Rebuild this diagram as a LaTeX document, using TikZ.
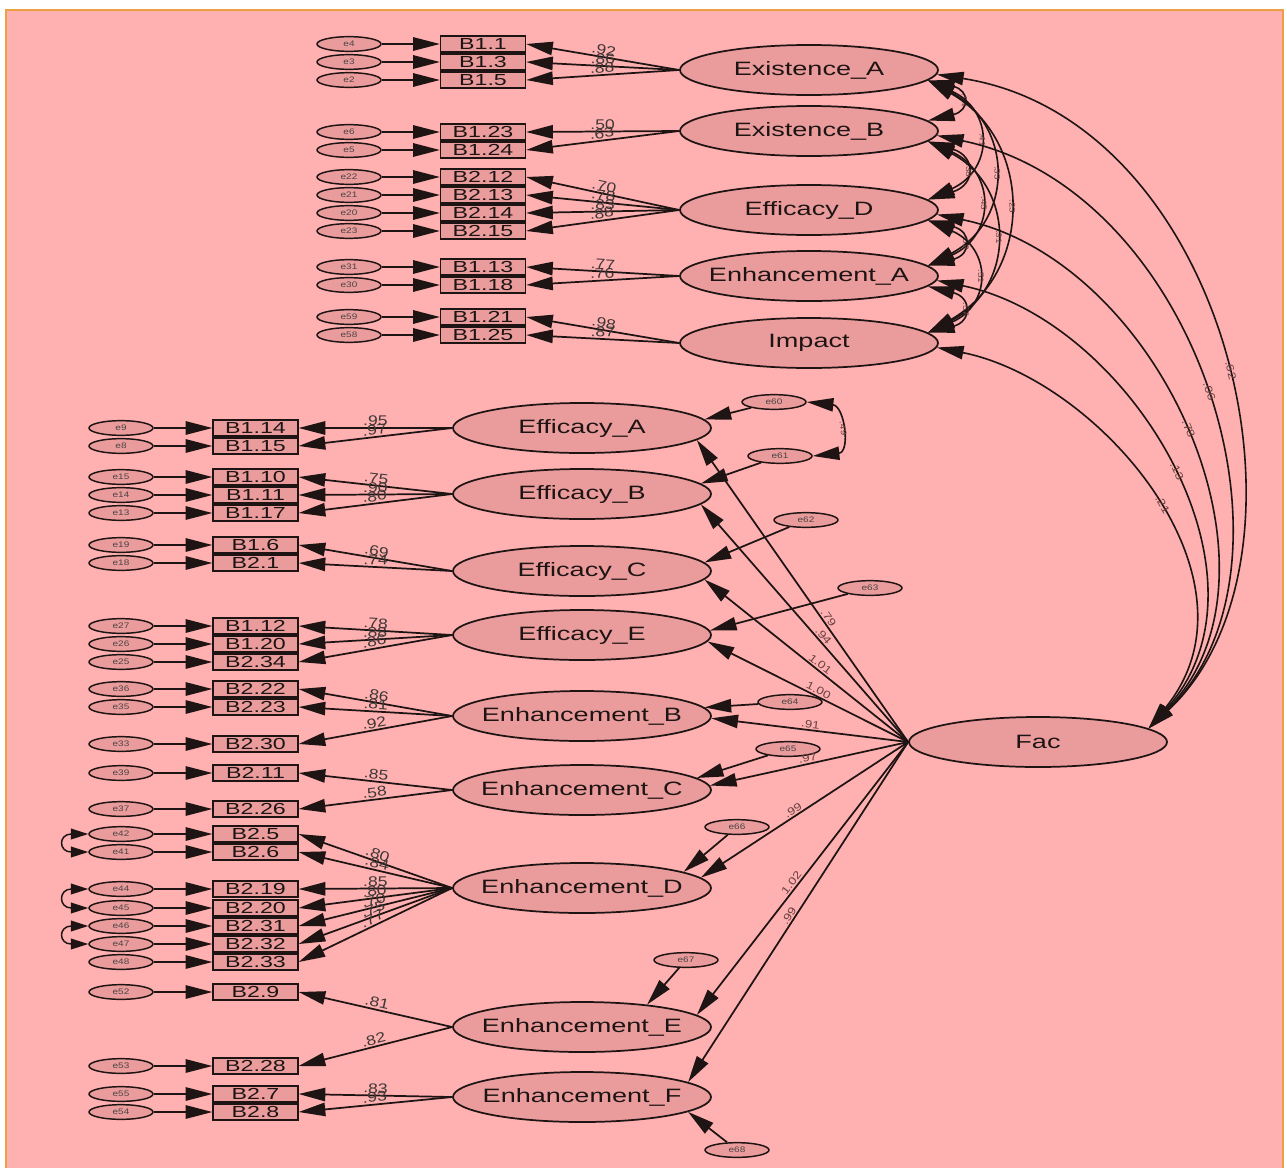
\documentclass[tikz,border=0pt]{standalone}
\usepackage{fontspec}
\setmainfont{Liberation Sans}
\newfontfamily\latf[FakeStretch=1.4]{Liberation Sans}
\newfontfamily\obsf[FakeStretch=1.45]{Liberation Sans}
\newfontfamily\numf[FakeStretch=1.25]{Liberation Sans}
\usetikzlibrary{shapes.geometric,arrows.meta,calc}
\definecolor{bg}{RGB}{255,176,176}
\definecolor{shade}{RGB}{234,156,156}
\definecolor{frameor}{RGB}{236,160,70}
\definecolor{ink}{RGB}{30,20,20}
\definecolor{numc}{RGB}{105,65,65}
% zero-width centred label, so long names do not widen the ellipses
\newcommand\zw[1]{\makebox[0pt]{#1}}
\begin{document}
\begin{tikzpicture}[x=0.75pt,y=-0.75pt,
  >={Triangle[length=20pt,width=10pt]},
  lat/.style={ellipse, draw=ink, line width=1.3pt, fill=shade, minimum width=193.5pt,
    minimum height=37.5pt, inner sep=0pt, text=ink, font=\latf\fontsize{14.5}{16}\selectfont},
  obs/.style={rectangle, draw=ink, line width=1.2pt, fill=shade, minimum width=63.5pt,
    minimum height=12pt, inner sep=0pt, text=ink, font=\obsf\fontsize{12}{12}\selectfont},
  err/.style={ellipse, draw=ink, line width=1.1pt, fill=shade, minimum width=48pt,
    minimum height=11pt, inner sep=0pt, text=ink!80, font=\numf\fontsize{6}{6}\selectfont},
  reg/.style={draw=ink, line width=1.3pt, ->},
  cov/.style={draw=ink, line width=1.2pt, <->},
  cov2/.style={draw=ink, line width=1.1pt,
    {Triangle[length=13pt,width=8pt]}-{Triangle[length=13pt,width=8pt]}},
  ld/.style={sloped, above, inner sep=1pt, text=ink!85, font=\numf\fontsize{10.5}{10.5}\selectfont},
  sl/.style={sloped, above, inner sep=1pt, text=numc, font=\numf\fontsize{8}{8}\selectfont},
  cl/.style={sloped, above, inner sep=1pt, text=numc, font=\numf\fontsize{6}{6}\selectfont}
]
\useasboundingbox (0,0) rectangle (1287,1167);
\fill[white] (0,0) rectangle (1287,1167);
\draw[frameor, line width=2.2pt, fill=bg] (6,10) rectangle (1283,1180);

% ---------- latent variables ----------
\node[lat] (exA) at (809,70)  {\zw{Existence\_A}};
\node[lat] (exB) at (809,131) {\zw{Existence\_B}};
\node[lat] (efD) at (809,210) {\zw{Efficacy\_D}};
\node[lat] (enA) at (809,276) {\zw{Enhancement\_A}};
\node[lat] (imp) at (809,343) {\zw{Impact}};

\node[lat] (efA) at (582,428)  {\zw{Efficacy\_A}};
\node[lat] (efB) at (582,494)  {\zw{Efficacy\_B}};
\node[lat] (efC) at (582,571)  {\zw{Efficacy\_C}};
\node[lat] (efE) at (582,635)  {\zw{Efficacy\_E}};
\node[lat] (enB) at (582,716)  {\zw{Enhancement\_B}};
\node[lat] (enC) at (582,790)  {\zw{Enhancement\_C}};
\node[lat] (enD) at (582,888)  {\zw{Enhancement\_D}};
\node[lat] (enE) at (582,1027) {\zw{Enhancement\_E}};
\node[lat] (enF) at (582,1097) {\zw{Enhancement\_F}};

\node[lat] (fac) at (1038,742) {\zw{Fac}};

% ---------- indicators with their error terms (upper block) ----------
\foreach \nm/\lab/\y/\er in {b11/B1.1/44/e4, b13/B1.3/62/e3, b15/B1.5/80/e2,
    b123/B1.23/132/e6, b124/B1.24/150/e5,
    b212/B2.12/177/e22, b213/B2.13/195/e21, b214/B2.14/213/e20, b215/B2.15/231/e23,
    b113/B1.13/267/e31, b118/B1.18/285/e30,
    b121/B1.21/317/e59, b125/B1.25/335/e58} {
  \node[obs] (\nm) at (483,\y) {\lab};
  \node[err] (e\nm) at (349,\y) {\er};
  \draw[reg] (e\nm.east) -- (\nm.west);
}

% ---------- indicators with their error terms (lower block) ----------
\foreach \nm/\lab/\y/\er in {b114/B1.14/428/e9, b115/B1.15/446/e8,
    b110/B1.10/477/e15, b111/B1.11/495/e14, b117/B1.17/513/e13,
    b16/B1.6/545/e19, b21/B2.1/563/e18,
    b112/B1.12/626/e27, b120/B1.20/644/e26, b234/B2.34/662/e25,
    b222/B2.22/689/e36, b223/B2.23/707/e35, b230/B2.30/744/e33,
    b211/B2.11/773/e39, b226/B2.26/809/e37,
    b25/B2.5/834/e42, b26/B2.6/852/e41,
    b219/B2.19/889/e44, b220/B2.20/908/e45, b231/B2.31/926/e46, b232/B2.32/944/e47, b233/B2.33/962/e48,
    b29/B2.9/992/e52, b228/B2.28/1066/e53,
    b27/B2.7/1094/e55, b28/B2.8/1112/e54} {
  \node[obs] (\nm) at (255.5,\y) {\lab};
  \node[err] (e\nm) at (121,\y) {\er};
  \draw[reg] (e\nm.east) -- (\nm.west);
}

% error covariances in the Enhancement_D block
\draw[cov2] (eb25.west)  .. controls +(-30,0) and +(-30,0) .. (eb26.west);
\draw[cov2] (eb219.west) .. controls +(-30,0) and +(-30,0) .. (eb220.west);
\draw[cov2] (eb231.west) .. controls +(-30,0) and +(-30,0) .. (eb232.west);

% ---------- factor loadings ----------
\foreach \l/\b/\v in {exA/b11/.92, exA/b13/.86, exA/b15/.88,
    exB/b123/.50, exB/b124/.63,
    efD/b212/.70, efD/b213/.78, efD/b214/.83, efD/b215/.88,
    enA/b113/.77, enA/b118/.76,
    imp/b121/.98, imp/b125/.87,
    efA/b114/.95, efA/b115/.97,
    efB/b110/.75, efB/b111/.90, efB/b117/.80,
    efC/b16/.69, efC/b21/.74,
    efE/b112/.78, efE/b120/.88, efE/b234/.86,
    enB/b222/.86, enB/b223/.81, enB/b230/.92,
    enC/b211/.85, enC/b226/.58,
    enD/b25/.80, enD/b26/.84, enD/b219/.85, enD/b220/.80, enD/b231/.70, enD/b232/.75, enD/b233/.77,
    enE/b29/.81, enE/b228/.82,
    enF/b27/.83, enF/b28/.93} {
  \draw[reg] (\l.west) -- node[ld] {\v} (\b.east);
}

% ---------- disturbances of the lower factors ----------
\node[err] (d60) at (774,402)  {e60};
\node[err] (d61) at (780,456)  {e61};
\node[err] (d62) at (806,520)  {e62};
\node[err] (d63) at (870,588)  {e63};
\node[err] (d64) at (790,702)  {e64};
\node[err] (d65) at (788,749)  {e65};
\node[err] (d66) at (737,827)  {e66};
\node[err] (d67) at (686,960)  {e67};
\node[err] (d68) at (737,1150) {e68};

\draw[reg] (d60) -- (efA.4);
\draw[reg] (d61) -- (efB.5);
\draw[reg] (d62) -- (efC.4);
\draw[reg] (d63) -- (efE.2);
\draw[reg] (d64) -- (enB.4);
\draw[reg] (d65) -- (enC.6);
\draw[reg] (d66) -- (enD.9);
\draw[reg] (d67) -- (enE.19);
\draw[reg] (d68) -- (enF.-8);

\draw[cov] (d60.east) .. controls +(38,4) and +(38,-4) .. (d61.east) node[cl,pos=.5] {.49};

% ---------- second-order paths ----------
\draw[reg] (fac.west) -- node[sl,pos=.40] {.79}  (efA.-6);
\draw[reg] (fac.west) -- node[sl,pos=.43] {.94}  (efB.-5);
\draw[reg] (fac.west) -- node[sl,pos=.45] {1.01} (efC.-4);
\draw[reg] (fac.west) -- node[sl,pos=.46] {1.00} (efE.-3);
\draw[reg] (fac.west) -- node[sl,pos=.50] {.91}  (enB.-1);
\draw[reg] (fac.west) -- node[sl,pos=.50] {.97}  (enC.2);
\draw[reg] (fac.west) -- node[sl,pos=.54] {.99}  (enD.5);
\draw[reg] (fac.west) -- node[sl,pos=.53] {1.02} (enE.6);
\draw[reg] (fac.west) -- node[sl,pos=.52] {.99}  (enF.8);

% ---------- covariances among the upper factors ----------
\draw[cov] (exA.-5) .. controls +(42,10)  and +(42,-10)  .. (exB.5) node[cl,pos=.5] {.54};
\draw[cov] (exA.-5) .. controls +(66,30)  and +(66,-30)  .. (efD.5) node[cl,pos=.5] {.41};
\draw[cov] (exA.-5) .. controls +(86,45)  and +(86,-45)  .. (enA.5) node[cl,pos=.5] {.33};
\draw[cov] (exA.-5) .. controls +(106,60) and +(106,-60) .. (imp.5) node[cl,pos=.5] {.23};
\draw[cov] (exB.-5) .. controls +(48,15)  and +(48,-15)  .. (efD.5) node[cl,pos=.5] {.38};
\draw[cov] (exB.-5) .. controls +(68,30)  and +(68,-30)  .. (enA.5) node[cl,pos=.5] {.45};
\draw[cov] (exB.-5) .. controls +(88,45)  and +(88,-45)  .. (imp.5) node[cl,pos=.5] {.31};
\draw[cov] (efD.-5) .. controls +(44,11)  and +(44,-11)  .. (enA.5) node[cl,pos=.5] {.62};
\draw[cov] (efD.-5) .. controls +(64,28)  and +(64,-28)  .. (imp.5) node[cl,pos=.5] {.51};
\draw[cov] (enA.-5) .. controls +(44,11)  and +(44,-11)  .. (imp.5) node[cl,pos=.5] {.57};

% ---------- covariances of the upper factors with Fac ----------
\draw[cov] (exA.-2) .. controls (1230,120) and (1330,560) .. (fac.7) node[sl,pos=.52] {.62};
\draw[cov] (exB.-2) .. controls (1200,190) and (1315,570) .. (fac.7) node[sl,pos=.50] {.06};
\draw[cov] (efD.-2) .. controls (1160,260) and (1300,575) .. (fac.7) node[sl,pos=.50] {.78};
\draw[cov] (enA.-2) .. controls (1130,320) and (1285,578) .. (fac.7) node[sl,pos=.52] {.13};
\draw[cov] (imp.-2) .. controls (1100,380) and (1270,580) .. (fac.7) node[sl,pos=.53] {.21};
\end{tikzpicture}
\end{document}
